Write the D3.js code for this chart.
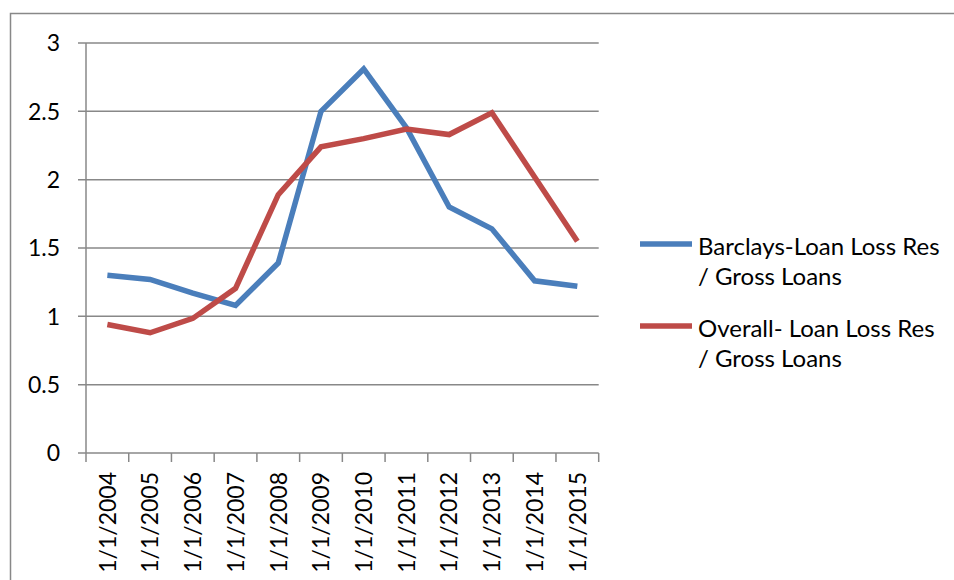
<!DOCTYPE html>
<html>
<head>
<meta charset="utf-8">
<script src="https://d3js.org/d3.v7.min.js"></script>
<style>
  body { margin: 0; background: #fff; }
  text { font-family: Lato, "Open Sans", sans-serif; fill: #000; }
</style>
</head>
<body>
<svg id="chart" width="954" height="580"></svg>
<script>
// chart data
var dates = ["1/1/2004", "1/1/2005", "1/1/2006", "1/1/2007", "1/1/2008", "1/1/2009",
             "1/1/2010", "1/1/2011", "1/1/2012", "1/1/2013", "1/1/2014", "1/1/2015"];
var barclays = [1.30, 1.27, 1.17, 1.08, 1.39, 2.50, 2.81, 2.38, 1.80, 1.64, 1.26, 1.22];
var overall  = [0.94, 0.88, 0.985, 1.205, 1.89, 2.24, 2.30, 2.37, 2.33, 2.49, 2.02, 1.55];
var yTicks = [0, 0.5, 1, 1.5, 2, 2.5, 3];
var seriesNames = [["Barclays-Loan Loss Res", "/ Gross Loans"],
                   ["Overall- Loan Loss Res", "/ Gross Loans"]];
var colors = ["#4a7ebb", "#be4b48"];

var svg = d3.select("#chart");
var margin = {left: 86, top: 43, right: 954 - 598.7, bottom: 580 - 453};
var width = 598.7 - margin.left, height = 453 - margin.top;

// outer chart frame
svg.append("rect")
  .attr("x", 10.5).attr("y", 13.5).attr("width", 1000).attr("height", 700)
  .attr("fill", "none").attr("stroke", "#888").attr("stroke-width", 1.5);

var g = svg.append("g").attr("transform", "translate(" + margin.left + "," + margin.top + ")");

var x = d3.scaleBand().domain(dates).range([0, width]);
var y = d3.scaleLinear().domain([0, 3]).range([height, 0]);

// gridlines
g.selectAll(".grid").data(yTicks).enter().append("line")
  .attr("x1", -8).attr("x2", width)
  .attr("y1", function(d) { return y(d); }).attr("y2", function(d) { return y(d); })
  .attr("stroke", "#888").attr("stroke-width", 1.5);

// y axis
g.append("line").attr("x1", 0).attr("x2", 0).attr("y1", 0).attr("y2", height)
  .attr("stroke", "#888").attr("stroke-width", 1.5);
g.selectAll(".ylab").data(yTicks).enter().append("text")
  .attr("x", -26).attr("y", function(d) { return y(d); })
  .attr("dy", "0.36em").attr("text-anchor", "end")
  .style("font-size", "23px")
  .text(function(d) { return d; });

// x axis tick marks at category boundaries
var bounds = dates.map(function(d) { return x(d); }).concat([width]);
g.selectAll(".xtick").data(bounds).enter().append("line")
  .attr("x1", function(d) { return d; }).attr("x2", function(d) { return d; })
  .attr("y1", height).attr("y2", height + 9)
  .attr("stroke", "#888").attr("stroke-width", 1.5);

g.selectAll(".xlab").data(dates).enter().append("text")
  .attr("transform", function(d) {
    return "translate(" + (x(d) + x.bandwidth() / 2) + "," + (height + 19) + ") rotate(-90)";
  })
  .attr("dy", "0.36em").attr("text-anchor", "end")
  .style("font-size", "23px")
  .text(function(d) { return d; });

// lines
var line = d3.line()
  .x(function(d, i) { return x(dates[i]) + x.bandwidth() / 2; })
  .y(function(d) { return y(d); });

[barclays, overall].forEach(function(s, i) {
  g.append("path").datum(s)
    .attr("d", line)
    .attr("fill", "none")
    .attr("stroke", colors[i])
    .attr("stroke-width", 5.5)
    .attr("stroke-linejoin", "miter");
});

// legend
var legend = svg.append("g");
seriesNames.forEach(function(n, i) {
  var ly = 244 + i * 82;
  legend.append("line")
    .attr("x1", 640).attr("x2", 692).attr("y1", ly).attr("y2", ly)
    .attr("stroke", colors[i]).attr("stroke-width", 5.5);
  n.forEach(function(t, j) {
    legend.append("text")
      .attr("x", 698).attr("y", ly + 11 + j * 30)
      .style("font-size", "24px")
      .text(t);
  });
});
</script>
</body>
</html>
